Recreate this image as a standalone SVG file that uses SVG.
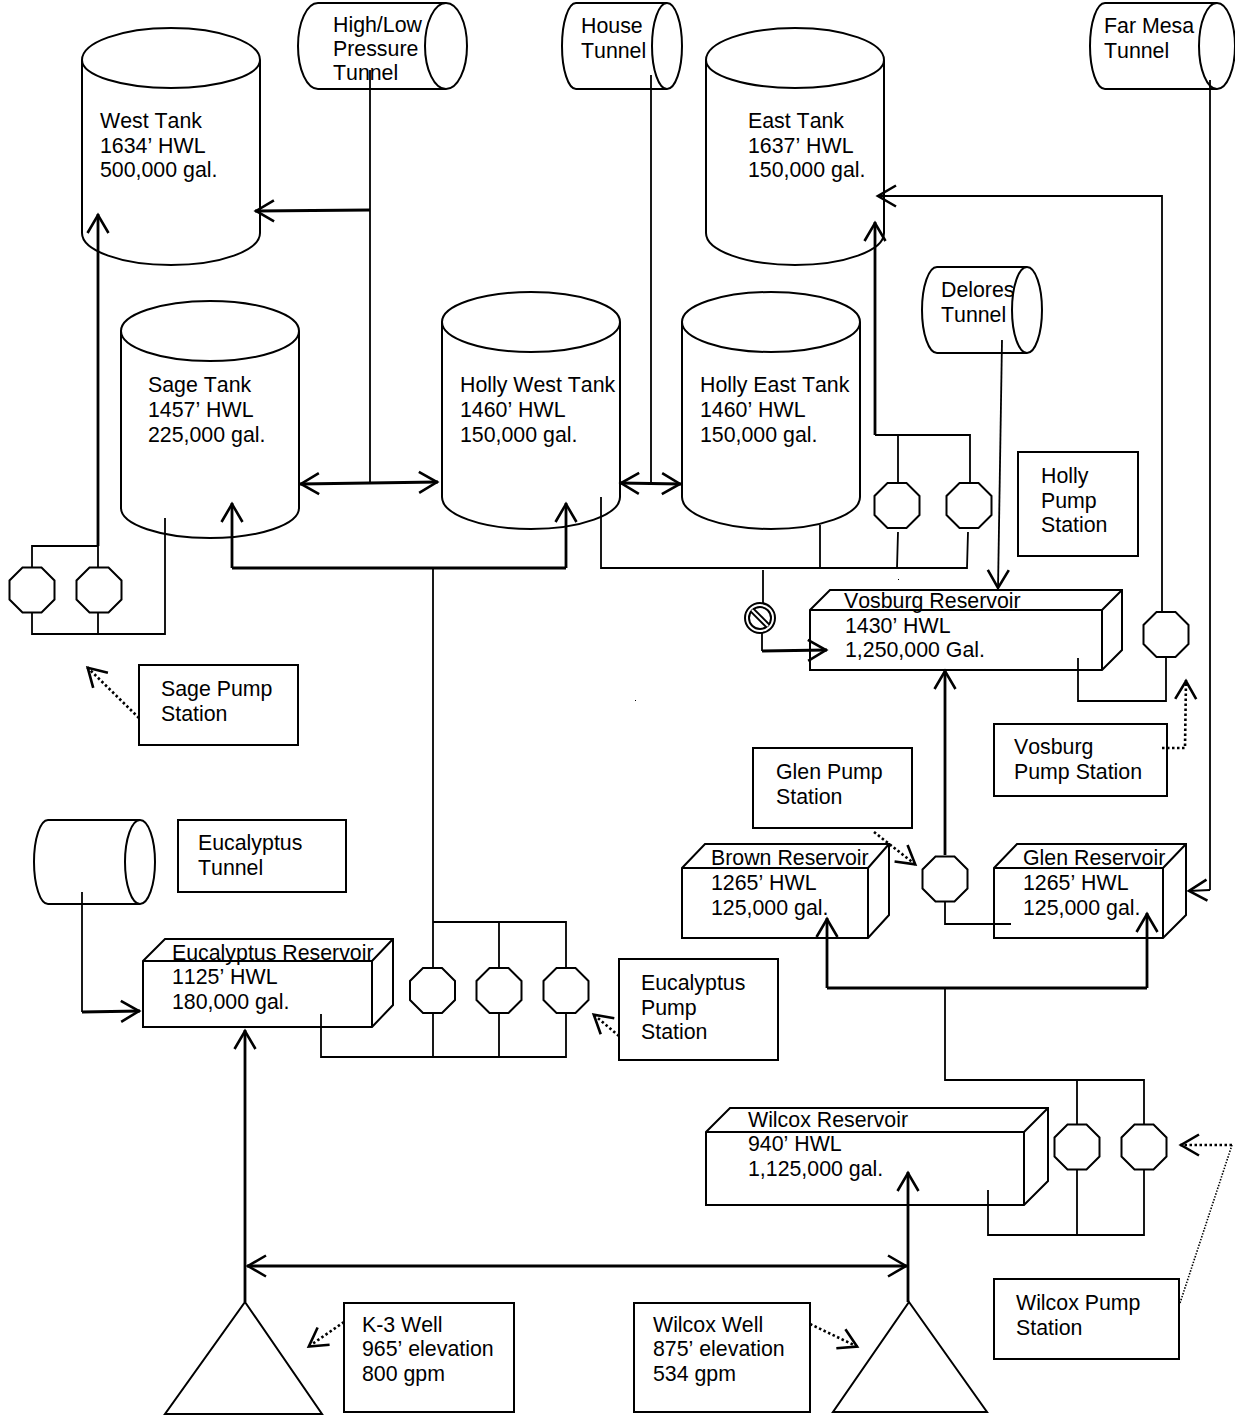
<svg xmlns="http://www.w3.org/2000/svg" width="1235" height="1416" viewBox="0 0 1235 1416">
<style>
text{font-family:"Liberation Sans",Arial,sans-serif;font-size:21.33px;font-kerning:none;fill:#000}
.s{fill:#fff;stroke:#000;stroke-width:2;stroke-linejoin:miter}
.o{fill:none;stroke:#000;stroke-width:2}
.t{fill:none;stroke:#000;stroke-width:1.8}
.k{fill:none;stroke:#000;stroke-width:2.8}
.d{fill:none;stroke:#000;stroke-width:2.6;stroke-dasharray:2.5 2.5}
.d2{fill:none;stroke:#000;stroke-width:1.6;stroke-dasharray:1.5 1.5}
.ah{fill:none;stroke:#000;stroke-width:2.6;stroke-dasharray:none}
</style>
<defs>
<marker id="a" markerUnits="userSpaceOnUse" markerWidth="28" markerHeight="28" refX="21" refY="14" orient="auto-start-reverse" overflow="visible"><path class="ah" d="M2 3.500 L20 14 L2 24.500"/></marker>
<path id="oct" class="s" d="M-9.500 -22.500H9.500L22.500 -9.500V9.500L9.500 22.500H-9.500L-22.500 9.500V-9.500Z"/>
</defs>
<rect width="1235" height="1416" fill="#fff"/>
<g id="west-tank"><path class="s" d="M82 60A89 32 0 0 1 260 60V233A89 32 0 0 1 82 233Z"/><path class="o" d="M82 60A89 28 0 0 0 260 60"/><text x="100" y="128">West Tank</text><text x="100" y="152.500">1634’ HWL</text><text x="100" y="177">500,000 gal.</text></g>
<g id="sage-tank"><path class="s" d="M121 331A89 30 0 0 1 299 331V508A89 30 0 0 1 121 508Z"/><path class="o" d="M121 331A89 30 0 0 0 299 331"/><text x="148" y="392">Sage Tank</text><text x="148" y="417">1457’ HWL</text><text x="148" y="442">225,000 gal.</text></g>
<g id="holly-west-tank"><path class="s" d="M442 322A89 30 0 0 1 620 322V497A89 32 0 0 1 442 497Z"/><path class="o" d="M442 322A89 30 0 0 0 620 322"/><text x="460" y="392">Holly West Tank</text><text x="460" y="417">1460’ HWL</text><text x="460" y="442">150,000 gal.</text></g>
<g id="holly-east-tank"><path class="s" d="M682 322A89 30 0 0 1 860 322V497A89 32 0 0 1 682 497Z"/><path class="o" d="M682 322A89 30 0 0 0 860 322"/><text x="700" y="392">Holly East Tank</text><text x="700" y="417">1460’ HWL</text><text x="700" y="442">150,000 gal.</text></g>
<g id="east-tank"><path class="s" d="M706 60A89 32 0 0 1 884 60V233A89 32 0 0 1 706 233Z"/><path class="o" d="M706 60A89 28 0 0 0 884 60"/><text x="748" y="128">East Tank</text><text x="748" y="152.500">1637’ HWL</text><text x="748" y="177">150,000 gal.</text></g>
<g id="high-low-tunnel"><path class="s" d="M318 3H446A21 43 0 0 1 446 89H318A20 43 0 0 1 318 3Z"/><path class="o" d="M446 3A21 43 0 0 0 446 89"/><text x="333" y="32">High/Low</text><text x="333" y="56">Pressure</text><text x="333" y="80">Tunnel</text></g>
<g id="house-tunnel"><path class="s" d="M576 3H667A15 43 0 0 1 667 89H576A14 43 0 0 1 576 3Z"/><path class="o" d="M667 3A15 43 0 0 0 667 89"/><text x="581" y="33">House</text><text x="581" y="58">Tunnel</text></g>
<g id="far-mesa-tunnel"><path class="s" d="M1105 3H1217A18 43 0 0 1 1217 89H1105A15 43 0 0 1 1105 3Z"/><path class="o" d="M1217 3A18 43 0 0 0 1217 89"/><text x="1104" y="33">Far Mesa</text><text x="1104" y="58">Tunnel</text></g>
<g id="delores-tunnel"><path class="s" d="M937 267H1027A15 43 0 0 1 1027 353H937A15 43 0 0 1 937 267Z"/><path class="o" d="M1027 267A15 43 0 0 0 1027 353"/><text x="941" y="297">Delores</text><text x="941" y="322">Tunnel</text></g>
<g id="eucalyptus-tunnel-shape"><path class="s" d="M48 820H140A15 42 0 0 1 140 904H48A14 42 0 0 1 48 820Z"/><path class="o" d="M140 820A15 42 0 0 0 140 904"/></g>
<g id="holly-pump-station"><rect class="s" x="1018" y="452" width="120" height="104"/><text x="1041" y="483">Holly</text><text x="1041" y="508">Pump</text><text x="1041" y="532">Station</text></g>
<g id="sage-pump-station"><rect class="s" x="139" y="665" width="159" height="80"/><text x="161" y="696">Sage Pump</text><text x="161" y="721">Station</text></g>
<g id="vosburg-pump-station"><rect class="s" x="994" y="724" width="173" height="72"/><text x="1014" y="754">Vosburg</text><text x="1014" y="779">Pump Station</text></g>
<g id="glen-pump-station"><rect class="s" x="753" y="748" width="159" height="80"/><text x="776" y="779">Glen Pump</text><text x="776" y="804">Station</text></g>
<g id="eucalyptus-tunnel"><rect class="s" x="178" y="820" width="168" height="72"/><text x="198" y="850">Eucalyptus</text><text x="198" y="875">Tunnel</text></g>
<g id="eucalyptus-pump-station"><rect class="s" x="619" y="959" width="159" height="101"/><text x="641" y="990">Eucalyptus</text><text x="641" y="1015">Pump</text><text x="641" y="1039">Station</text></g>
<g id="wilcox-pump-station"><rect class="s" x="994" y="1279" width="185" height="80"/><text x="1016" y="1310">Wilcox Pump</text><text x="1016" y="1335">Station</text></g>
<g id="k3-well"><rect class="s" x="344" y="1303" width="170" height="109"/><text x="362" y="1332">K-3 Well</text><text x="362" y="1356">965’ elevation</text><text x="362" y="1381">800 gpm</text><path class="s" d="M245 1302L322 1414H165Z"/></g>
<g id="wilcox-well"><rect class="s" x="634" y="1303" width="176" height="109"/><text x="653" y="1332">Wilcox Well</text><text x="653" y="1356">875’ elevation</text><text x="653" y="1381">534 gpm</text><path class="s" d="M909 1302L987 1412H833Z"/></g>
<g id="vosburg-reservoir"><path class="s" d="M810 610L830 590H1122V650L1102 670H810Z"/><path class="o" d="M810 610H1102V670M1102 610L1122 590"/><text x="844" y="608">Vosburg Reservoir</text><text x="845" y="633">1430’ HWL</text><text x="845" y="657">1,250,000 Gal.</text></g>
<g id="brown-reservoir"><path class="s" d="M682 868L705 844H889V915L868 938H682Z"/><path class="o" d="M682 868H868V938M868 868L889 844"/><text x="711" y="865">Brown Reservoir</text><text x="711" y="890">1265’ HWL</text><text x="711" y="915">125,000 gal.</text></g>
<g id="glen-reservoir"><path class="s" d="M994 868L1017 844H1186V915L1163 938H994Z"/><path class="o" d="M994 868H1163V938M1163 868L1186 844"/><text x="1023" y="865">Glen Reservoir</text><text x="1023" y="890">1265’ HWL</text><text x="1023" y="915">125,000 gal.</text></g>
<g id="eucalyptus-reservoir"><path class="s" d="M143 961L165 939H393V1005L372 1027H143Z"/><path class="o" d="M143 961H372V1027M372 961L393 939"/><text x="172" y="960">Eucalyptus Reservoir</text><text x="172" y="984">1125’ HWL</text><text x="172" y="1009">180,000 gal.</text></g>
<g id="wilcox-reservoir"><path class="s" d="M706 1132L730 1108H1048V1181L1024 1205H706Z"/><path class="o" d="M706 1132H1024V1205M1024 1132L1048 1108"/><text x="748" y="1127">Wilcox Reservoir</text><text x="748" y="1151">940’ HWL</text><text x="748" y="1176">1,125,000 gal.</text></g>
<g id="connectors">
<path class="t" d="M370 70V483M651 75V484"/>
<path class="k" marker-end="url(#a)" d="M370 210L255 211"/>
<path class="k" marker-start="url(#a)" marker-end="url(#a)" d="M300 484L438 482"/>
<path class="k" marker-start="url(#a)" marker-end="url(#a)" d="M620 483L681 484"/>
<path class="k" marker-end="url(#a)" d="M98 546V214"/>
<path class="t" d="M98 546H32V634H165V518M98 546V634"/>
<path class="k" marker-end="url(#a)" d="M232 568V503"/>
<path class="k" d="M232 568H566"/>
<path class="k" marker-end="url(#a)" d="M566 568V503"/>
<path class="t" d="M433 568V1057M433 922H566V1057H321V1014M499 922V1057"/>
<path class="t" d="M601 497V568H967L968 532M820 525V568M897 568L898 532M875 435H970V484M898 435V484"/>
<path class="k" marker-end="url(#a)" d="M875 435V222"/>
<path class="t" marker-end="url(#a)" d="M1162 612V196H877"/>
<path class="t" d="M1166 657V701H1078V658"/>
<path class="t" marker-end="url(#a)" d="M1002 340L998 589"/>
<path class="t" d="M763 570V605M762 632V651"/>
<path class="k" marker-end="url(#a)" d="M762 651L827 650"/>
<path class="k" marker-end="url(#a)" d="M945 855V670"/>
<path class="t" d="M945 901V924H1011"/>
<path class="t" d="M1210 80V890"/>
<path class="t" marker-end="url(#a)" d="M1210 890L1188 891"/>
<path class="k" marker-end="url(#a)" d="M827 988V918"/>
<path class="k" d="M827 988H1147"/>
<path class="k" marker-end="url(#a)" d="M1147 988V913"/>
<path class="t" d="M945 988V1080H1144V1235H988V1190M1077 1080V1235"/>
<path class="t" d="M82 892V1012"/>
<path class="k" marker-end="url(#a)" d="M82 1012L140 1011"/>
<path class="k" marker-end="url(#a)" d="M245 1302V1030"/>
<path class="k" marker-end="url(#a)" d="M908 1302V1172"/>
<path class="k" marker-start="url(#a)" marker-end="url(#a)" d="M247 1266H907"/>
<path class="d" marker-end="url(#a)" d="M139 718L87 667"/>
<path class="d" marker-end="url(#a)" d="M1162 748H1185L1186 680"/>
<path class="d" marker-end="url(#a)" d="M874 832L916 865"/>
<path class="d" marker-end="url(#a)" d="M619 1036L593 1014"/>
<path class="d2" d="M1180 1303L1232 1145"/>
<path class="d" marker-end="url(#a)" d="M1232 1145H1180"/>
<path class="d" marker-end="url(#a)" d="M344 1322L308 1347"/>
<path class="d" marker-end="url(#a)" d="M810 1324L858 1347"/>
</g>
<g id="pumps">
<use href="#oct" x="32" y="590"/><use href="#oct" x="99" y="590"/>
<use href="#oct" x="897" y="505.500"/><use href="#oct" x="969" y="505.500"/>
<use href="#oct" x="1166" y="634.500"/><use href="#oct" x="945" y="879"/>
<use href="#oct" x="432.500" y="990.500"/><use href="#oct" x="499" y="990.500"/><use href="#oct" x="566" y="990.500"/>
<use href="#oct" x="1077" y="1147"/><use href="#oct" x="1144" y="1147"/>
</g>
<g id="check-valve"><circle class="s" cx="760" cy="618" r="15"/><circle class="o" cx="760" cy="618" r="11"/><path fill="none" stroke="#000" stroke-width="6" d="M752 610L768 626"/><path fill="none" stroke="#fff" stroke-width="2" d="M752 610L768 626"/></g>
<rect x="898" y="579" width="1" height="1"/><rect x="635" y="700" width="1" height="1"/>
</svg>
